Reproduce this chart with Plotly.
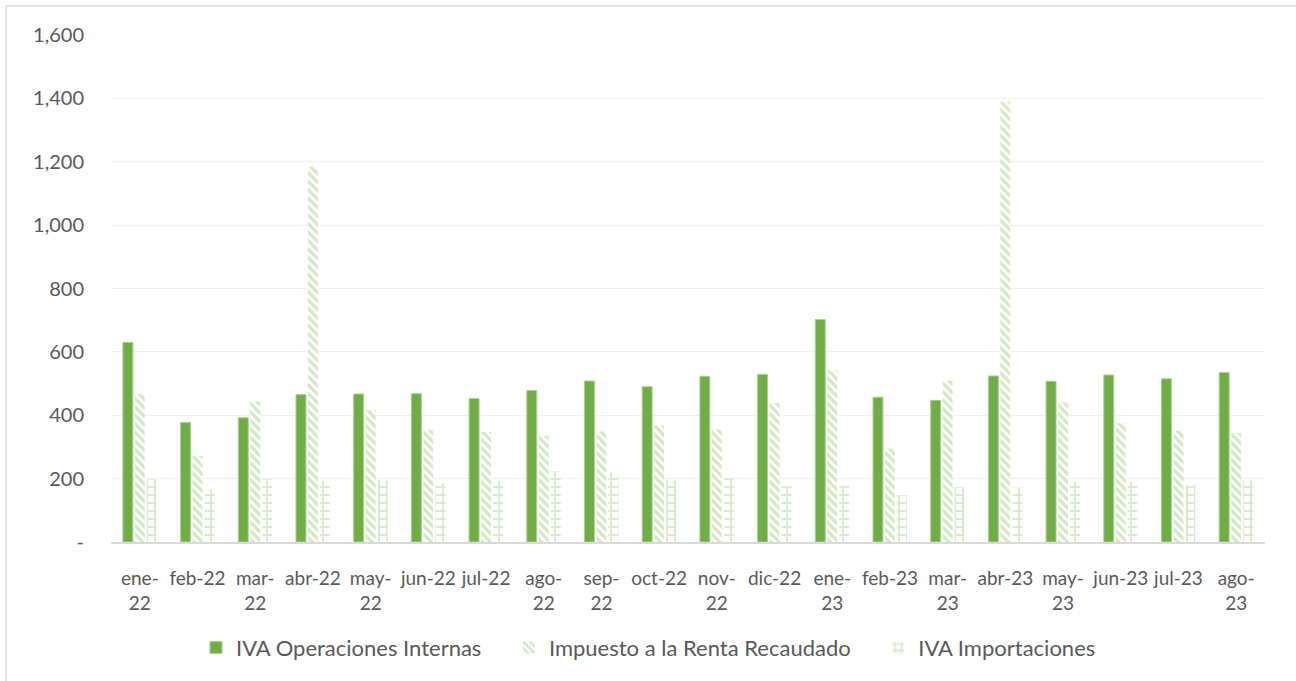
import plotly.graph_objects as go

categories = ["ene-<br>22", "feb-22", "mar-<br>22", "abr-22", "may-<br>22", "jun-22", "jul-22",
              "ago-<br>22", "sep-<br>22", "oct-22", "nov-<br>22", "dic-22", "ene-<br>23", "feb-23",
              "mar-<br>23", "abr-23", "may-<br>23", "jun-23", "jul-23", "ago-<br>23"]

iva_internas = [630, 377, 392, 465, 467, 468, 453, 478, 508, 490, 523, 529,
                702, 457, 447, 524, 507, 527, 515, 535]
renta = [466, 272, 443, 1184, 416, 353, 347, 336, 349, 368, 355, 439,
         542, 295, 510, 1390, 440, 375, 351, 344]
iva_import = [198, 167, 198, 193, 195, 185, 192, 223, 220, 195, 201, 176,
              180, 148, 173, 172, 190, 189, 181, 195]

y_ticks = [0, 200, 400, 600, 800, 1000, 1200, 1400, 1600]
y_tick_text = ["-", "200", "400", "600", "800", "1,000", "1,200", "1,400", "1,600"]

FONT = "Lato"
TXT = "#595959"
GREEN = "#70ad47"
LIGHT = "#a9d18e"
NB = "\u00a0"

fig = go.Figure()
fig.add_trace(go.Bar(
    x=categories, y=iva_internas, name="IVA Operaciones Internas" + NB * 4,
    marker=dict(color=GREEN, line=dict(color="#a9d18e", width=1)),
))
fig.add_trace(go.Bar(
    x=categories, y=renta, name="Impuesto a la Renta Recaudado" + NB * 4,
    marker=dict(color="white", line=dict(width=0),
                pattern=dict(shape="\\", fgcolor=LIGHT, bgcolor="white", size=6, solidity=0.55)),
))
fig.add_trace(go.Bar(
    x=categories, y=iva_import, name="IVA Importaciones",
    marker=dict(color="white", line=dict(width=0),
                pattern=dict(shape="+", fgcolor="#b4d89c", bgcolor="white", size=8, solidity=0.45)),
))

W, H = 1296, 681
ml, mr, mt, mb = 111, 31, 35, 137
pw, ph = W - ml - mr, H - mt - mb

fig.update_layout(
    width=W, height=H,
    margin=dict(l=ml, r=mr, t=mt, b=mb),
    paper_bgcolor="white", plot_bgcolor="white",
    barmode="group", bargap=0.377, bargroupgap=0.17,
    font=dict(family=FONT, color=TXT, size=19),
    showlegend=True,
    legend=dict(orientation="h", x=(196 - ml) / pw, xanchor="left",
                y=-(650 - (H - mb)) / ph, yanchor="middle",
                font=dict(size=22, color=TXT, family=FONT),
                itemwidth=30, tracegroupgap=0),
    xaxis=dict(showgrid=False, showline=True, linecolor="#d9d9d9", linewidth=2,
               ticks="", tickfont=dict(size=19, color=TXT), ticklabelstandoff=18,
               tickangle=0),
    yaxis=dict(range=[0, 1600], tickvals=y_ticks, ticktext=y_tick_text,
               showgrid=True, gridcolor="#f0f0f0", gridwidth=1, zeroline=False,
               showline=False, ticks="", tickfont=dict(size=20, color=TXT),
               ticklabelstandoff=26),
    shapes=[
        dict(type="line", xref="paper", yref="paper",
             x0=(6 - ml) / pw, x1=(6 - ml) / pw, y0=(H - mb - 6) / ph, y1=-(mb + 10) / ph,
             line=dict(color="#d9d9d9", width=1.5)),
        dict(type="line", xref="paper", yref="paper",
             x0=(6 - ml) / pw, x1=(W + 10 - ml) / pw, y0=(H - mb - 6) / ph, y1=(H - mb - 6) / ph,
             line=dict(color="#d9d9d9", width=1.5)),
    ],
)

fig.write_html("out.html", config={"displayModeBar": False},
               post_script="document.body.style.margin='0';")
